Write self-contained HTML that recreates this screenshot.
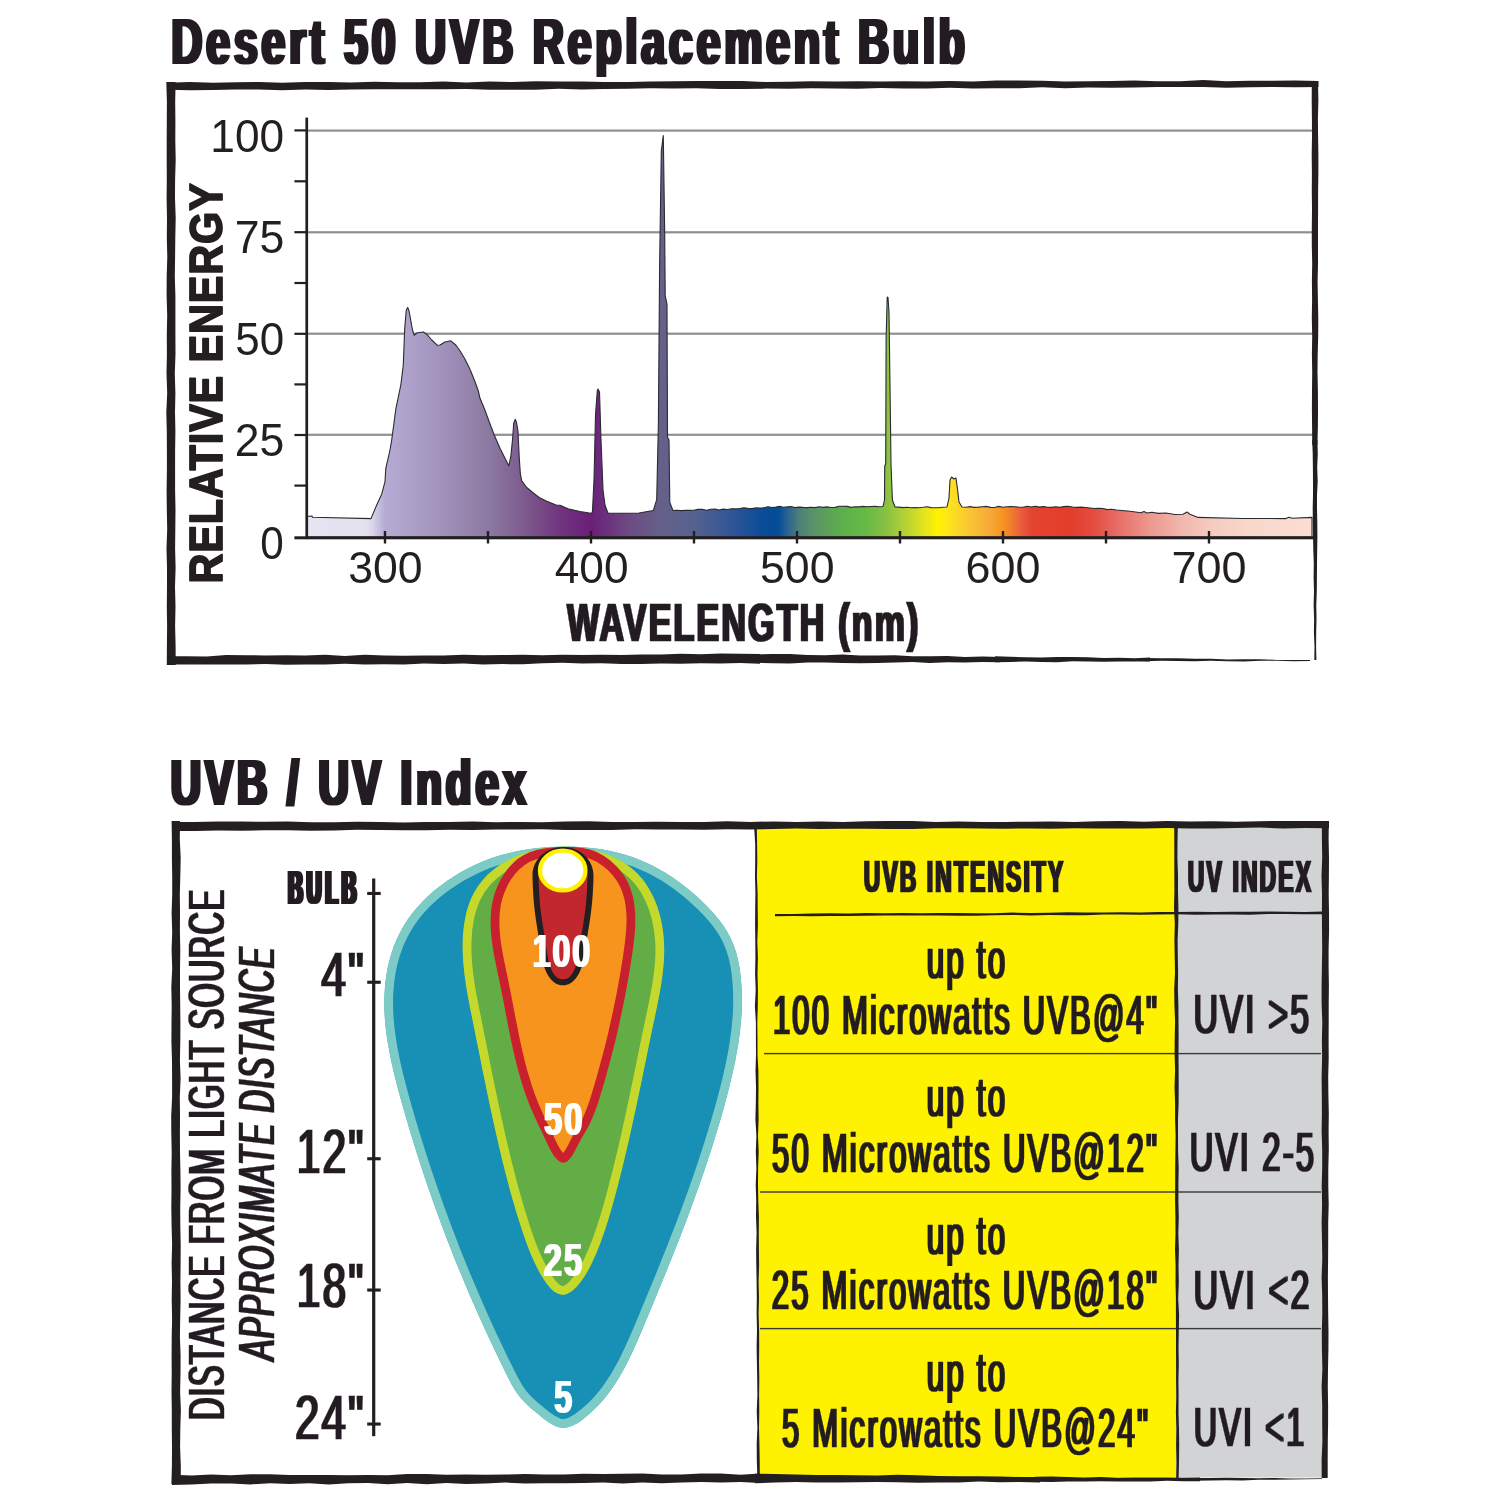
<!DOCTYPE html>
<html lang="en"><head><meta charset="utf-8"><title>Desert 50 UVB Replacement Bulb</title>
<style>html,body{margin:0;padding:0;background:#fff}svg{display:block}text{white-space:pre}</style></head>
<body>
<svg width="1500" height="1500" viewBox="0 0 1500 1500" font-family="'Liberation Sans', sans-serif">
<rect width="1500" height="1500" fill="#fff"/>
<defs><filter id="fx1" x="-5%" y="-5%" width="110%" height="110%"><feMorphology operator="dilate" radius="1 0"/></filter><filter id="fx2" x="-5%" y="-5%" width="110%" height="110%"><feMorphology operator="dilate" radius="2 0"/></filter><filter id="fy1" x="-5%" y="-5%" width="110%" height="110%"><feMorphology operator="dilate" radius="0 1"/></filter><filter id="fy2" x="-5%" y="-5%" width="110%" height="110%"><feMorphology operator="dilate" radius="0 2"/></filter></defs>
<defs><linearGradient id="sp" gradientUnits="userSpaceOnUse" x1="307" y1="0" x2="1312" y2="0">
<stop offset="0.0000" stop-color="#e7e4f2"/>
<stop offset="0.0587" stop-color="#e5e2f0"/>
<stop offset="0.0647" stop-color="#d9d5ea"/>
<stop offset="0.0776" stop-color="#b5abd3"/>
<stop offset="0.1303" stop-color="#a394bd"/>
<stop offset="0.1791" stop-color="#8d7aa3"/>
<stop offset="0.2169" stop-color="#7d5a8d"/>
<stop offset="0.2517" stop-color="#71357f"/>
<stop offset="0.2826" stop-color="#6a1f78"/>
<stop offset="0.3204" stop-color="#6e4a83"/>
<stop offset="0.3512" stop-color="#66608a"/>
<stop offset="0.3861" stop-color="#55618f"/>
<stop offset="0.4239" stop-color="#2f5597"/>
<stop offset="0.4517" stop-color="#0c4c98"/>
<stop offset="0.4687" stop-color="#034c98"/>
<stop offset="0.4796" stop-color="#2e6690"/>
<stop offset="0.4896" stop-color="#4d8078"/>
<stop offset="0.5065" stop-color="#5b9666"/>
<stop offset="0.5254" stop-color="#5ca850"/>
<stop offset="0.5403" stop-color="#5eb548"/>
<stop offset="0.5552" stop-color="#66b945"/>
<stop offset="0.5751" stop-color="#86c043"/>
<stop offset="0.5950" stop-color="#b5d136"/>
<stop offset="0.6149" stop-color="#e6e41c"/>
<stop offset="0.6279" stop-color="#fff200"/>
<stop offset="0.6398" stop-color="#fde21f"/>
<stop offset="0.6597" stop-color="#f9c433"/>
<stop offset="0.6796" stop-color="#f6a93a"/>
<stop offset="0.6925" stop-color="#f7941d"/>
<stop offset="0.7015" stop-color="#f07a30"/>
<stop offset="0.7114" stop-color="#e85a3c"/>
<stop offset="0.7214" stop-color="#e4442f"/>
<stop offset="0.7592" stop-color="#e23d2b"/>
<stop offset="0.7841" stop-color="#e44e40"/>
<stop offset="0.8090" stop-color="#e7706a"/>
<stop offset="0.8388" stop-color="#ec988f"/>
<stop offset="0.8687" stop-color="#f1b5ab"/>
<stop offset="0.8985" stop-color="#f5cabf"/>
<stop offset="0.9383" stop-color="#f9d8cc"/>
<stop offset="1.0000" stop-color="#fbddd1"/>
</linearGradient></defs>
<rect x="307" y="129.5" width="1006" height="2.2" fill="#8f8f8f"/>
<rect x="307" y="231.2" width="1006" height="2.2" fill="#8f8f8f"/>
<rect x="307" y="332.6" width="1006" height="2.2" fill="#8f8f8f"/>
<rect x="307" y="433.7" width="1006" height="2.2" fill="#8f8f8f"/>
<path d="M307.0 537.0 L307.0 516.5 L312.0 516.0 L312.5 517.2 L371.0 518.6 L376.7 505.0 L381.7 494.2 L385.0 481.7 L385.8 468.3 L390.0 450.0 L391.7 440.0 L395.8 409.2 L400.8 385.0 L403.3 365.0 L404.7 328.3 L406.3 310.0 L407.7 307.5 L409.0 310.8 L412.5 330.0 L414.2 335.3 L416.7 333.0 L423.3 332.0 L426.7 334.2 L431.7 340.0 L437.5 345.3 L440.0 345.0 L445.0 342.0 L450.8 340.8 L455.8 345.0 L460.0 350.8 L465.0 359.2 L470.0 369.2 L475.0 381.7 L478.3 390.8 L480.0 398.3 L484.2 408.3 L489.2 421.7 L494.2 435.0 L500.0 448.3 L505.0 458.3 L508.8 465.8 L510.8 456.7 L512.5 440.0 L513.7 423.3 L515.3 419.2 L516.7 423.3 L518.0 431.7 L519.2 456.7 L520.3 473.3 L521.7 480.8 L526.7 487.5 L533.3 493.0 L539.2 497.5 L546.7 501.3 L556.7 505.3 L560.0 505.2 L568.0 508.8 L580.0 511.5 L591.0 513.3 L592.4 512.5 L594.0 480.0 L595.5 415.0 L597.3 390.5 L598.0 389.0 L599.5 392.0 L601.0 440.0 L603.0 490.0 L605.0 505.0 L608.0 513.3 L625.0 513.2 L639.0 513.0 L653.3 510.5 L656.7 499.7 L658.4 423.0 L659.6 267.0 L661.3 151.0 L663.3 135.6 L664.7 233.0 L665.2 295.7 L667.0 304.0 L667.5 437.0 L669.0 440.0 L669.8 502.5 L673.0 510.5 L677.2 510.3 L681.4 510.6 L685.6 510.2 L689.8 510.4 L693.9 510.3 L698.1 509.4 L702.3 509.2 L706.5 510.2 L710.7 509.2 L714.9 509.1 L719.1 510.0 L723.2 509.1 L727.4 509.5 L731.6 508.8 L735.8 508.9 L740.0 508.6 L744.0 507.9 L748.0 508.4 L752.0 508.6 L756.0 507.9 L760.0 508.0 L764.0 507.8 L768.0 506.7 L772.0 507.5 L776.0 507.1 L780.0 506.2 L783.0 507.2 L787.0 506.9 L791.0 506.5 L795.0 507.6 L799.0 507.1 L803.0 507.4 L807.0 507.6 L811.0 507.3 L815.0 507.6 L819.0 506.8 L823.0 507.4 L827.0 506.9 L831.0 507.5 L835.0 507.4 L839.0 506.3 L843.0 506.3 L847.0 506.4 L851.0 507.4 L855.0 506.7 L859.0 506.9 L863.0 506.4 L867.0 506.7 L871.0 506.5 L875.0 506.4 L879.0 506.7 L883.0 506.5 L884.5 500.0 L884.7 466.0 L885.7 464.0 L886.1 340.0 L887.2 297.0 L888.0 297.5 L889.0 312.0 L890.0 386.0 L891.0 464.0 L892.4 500.0 L895.0 507.0 L899.0 507.1 L903.0 507.6 L907.0 507.3 L911.0 507.7 L915.0 507.6 L919.0 507.8 L923.0 507.3 L927.0 506.7 L931.0 507.6 L935.0 507.8 L939.0 507.7 L943.0 507.3 L947.0 507.0 L949.0 498.0 L950.0 480.0 L951.6 477.0 L954.0 479.0 L956.0 478.0 L957.6 490.0 L959.0 502.0 L962.0 507.0 L966.1 507.2 L970.1 506.6 L974.2 507.4 L978.3 507.1 L982.4 506.7 L986.4 506.4 L990.5 507.4 L994.6 507.5 L998.7 506.4 L1002.7 507.3 L1006.8 506.8 L1010.9 506.5 L1015.0 506.7 L1019.0 507.2 L1023.1 507.3 L1027.2 506.3 L1031.3 507.0 L1035.3 506.3 L1039.4 507.1 L1043.5 506.6 L1047.6 507.3 L1051.6 507.4 L1055.7 506.8 L1059.8 507.4 L1063.9 506.6 L1067.9 506.3 L1072.6 507.0 L1076.9 507.4 L1081.3 507.1 L1085.6 507.5 L1090.0 508.0 L1094.3 508.5 L1098.6 508.3 L1103.0 508.5 L1107.3 509.6 L1111.7 509.3 L1116.6 510.0 L1130.0 511.2 L1141.0 512.8 L1144.0 511.6 L1147.0 513.0 L1152.0 512.2 L1158.0 513.4 L1166.0 513.0 L1175.0 514.5 L1183.0 514.2 L1187.0 512.0 L1190.0 514.2 L1198.0 517.4 L1242.0 518.5 L1286.0 518.6 L1289.0 517.2 L1292.0 518.3 L1312.0 517.4 L1312.0 537.0Z" fill="url(#sp)" stroke="#2a2a32" stroke-width="1.1" stroke-linejoin="round"/>
<rect x="305.4" y="117.6" width="2.7" height="421.5" fill="#231f20"/>
<rect x="294.4" y="536.3" width="1019" height="3" fill="#231f20"/>
<rect x="294.4" y="129.3" width="12" height="2.2" fill="#231f20"/>
<rect x="294.4" y="180.2" width="12" height="2.2" fill="#231f20"/>
<rect x="294.4" y="231.1" width="12" height="2.2" fill="#231f20"/>
<rect x="294.4" y="281.9" width="12" height="2.2" fill="#231f20"/>
<rect x="294.4" y="332.7" width="12" height="2.2" fill="#231f20"/>
<rect x="294.4" y="383.3" width="12" height="2.2" fill="#231f20"/>
<rect x="294.4" y="433.9" width="12" height="2.2" fill="#231f20"/>
<rect x="294.4" y="484.5" width="12" height="2.2" fill="#231f20"/>
<rect x="383.8" y="531" width="2.4" height="12.5" fill="#231f20"/>
<rect x="486.8" y="531" width="2.4" height="12.5" fill="#231f20"/>
<rect x="589.8" y="531" width="2.4" height="12.5" fill="#231f20"/>
<rect x="692.8" y="531" width="2.4" height="12.5" fill="#231f20"/>
<rect x="795.8" y="531" width="2.4" height="12.5" fill="#231f20"/>
<rect x="898.8" y="531" width="2.4" height="12.5" fill="#231f20"/>
<rect x="1001.8" y="531" width="2.4" height="12.5" fill="#231f20"/>
<rect x="1104.8" y="531" width="2.4" height="12.5" fill="#231f20"/>
<rect x="1207.8" y="531" width="2.4" height="12.5" fill="#231f20"/>
<path d="M166.3 82.0 L166.9 101.4 L166.8 120.9 L166.7 140.3 L166.7 159.7 L166.8 179.2 L166.6 198.6 L167.0 218.0 L166.8 237.5 L167.3 256.9 L166.7 276.3 L166.6 295.8 L167.2 315.2 L166.8 334.6 L166.9 354.1 L166.5 373.5 L167.2 392.9 L166.3 412.4 L166.8 431.8 L166.9 451.2 L166.9 470.7 L166.6 490.1 L166.8 509.5 L167.2 529.0 L166.5 548.4 L167.0 567.8 L167.0 587.3 L166.8 606.7 L167.1 626.1 L166.9 645.6 L166.8 665.0 L175.7 665.0 L175.6 645.6 L175.1 626.1 L175.5 606.7 L175.0 587.3 L175.6 567.8 L175.1 548.4 L175.3 529.0 L175.5 509.5 L175.1 490.1 L175.1 470.7 L175.1 451.2 L175.4 431.8 L175.0 412.4 L175.4 392.9 L174.8 373.5 L175.5 354.1 L175.4 334.6 L175.4 315.2 L175.4 295.8 L174.8 276.3 L175.1 256.9 L175.3 237.5 L175.7 218.0 L175.0 198.6 L175.1 179.2 L175.7 159.7 L175.3 140.3 L175.4 120.9 L175.2 101.4 L175.6 82.0Z" fill="#231f20"/>
<path d="M167.0 89.7 L190.0 90.2 L213.1 89.9 L236.1 89.5 L259.1 89.5 L282.2 90.2 L305.2 89.5 L328.2 89.9 L351.2 89.4 L374.3 89.3 L397.3 89.2 L420.3 89.3 L443.4 89.3 L466.4 88.9 L489.4 89.8 L512.5 89.8 L535.5 89.7 L558.5 88.7 L581.5 89.4 L604.6 89.0 L627.6 88.7 L650.6 88.3 L673.7 88.5 L696.7 88.2 L719.7 88.9 L742.8 89.1 L765.8 88.6 L788.8 88.8 L811.8 88.2 L834.9 88.4 L857.9 88.8 L880.9 88.0 L904.0 88.6 L927.0 88.5 L950.0 87.7 L973.1 88.4 L996.1 88.3 L1019.1 88.2 L1042.1 87.2 L1065.2 88.2 L1088.2 87.4 L1111.2 87.7 L1134.3 87.5 L1157.3 86.9 L1180.3 87.0 L1203.4 86.9 L1226.4 87.8 L1249.4 87.3 L1272.4 87.0 L1295.5 87.3 L1318.5 86.9 L1318.5 80.9 L1295.5 80.4 L1272.4 80.8 L1249.4 80.8 L1226.4 81.2 L1203.3 80.1 L1180.3 81.2 L1157.3 81.3 L1134.3 80.5 L1111.2 81.0 L1088.2 81.2 L1065.2 81.5 L1042.1 80.8 L1019.1 80.6 L996.1 80.6 L973.0 81.5 L950.0 81.1 L927.0 81.4 L904.0 81.2 L880.9 81.6 L857.9 81.2 L834.9 81.4 L811.8 81.2 L788.8 81.8 L765.8 82.0 L742.7 81.0 L719.7 81.0 L696.7 81.1 L673.7 81.2 L650.6 81.6 L627.6 82.0 L604.6 82.0 L581.5 81.6 L558.5 81.5 L535.5 81.3 L512.4 82.0 L489.4 81.5 L466.4 82.6 L443.4 81.5 L420.3 82.2 L397.3 82.3 L374.3 81.8 L351.2 82.6 L328.2 81.9 L305.2 81.9 L282.1 82.7 L259.1 82.0 L236.1 82.3 L213.1 82.7 L190.0 82.0 L167.0 82.7Z" fill="#231f20"/>
<path d="M1311.8 82.0 L1311.7 100.2 L1311.9 118.3 L1312.0 136.4 L1311.7 154.6 L1311.9 172.8 L1311.8 190.9 L1312.0 209.1 L1311.8 227.2 L1311.8 245.3 L1312.2 263.5 L1311.9 281.6 L1312.1 299.8 L1311.8 318.0 L1312.2 336.1 L1311.9 354.2 L1312.2 372.4 L1312.0 390.6 L1311.9 408.7 L1312.1 426.8 L1312.2 445.0 L1317.4 445.0 L1317.9 426.8 L1318.0 408.7 L1317.9 390.6 L1317.5 372.4 L1317.7 354.2 L1318.2 336.1 L1318.3 318.0 L1317.9 299.8 L1317.6 281.6 L1318.0 263.5 L1318.0 245.3 L1318.0 227.2 L1318.1 209.1 L1318.1 190.9 L1318.4 172.8 L1318.4 154.6 L1318.1 136.4 L1317.9 118.3 L1318.4 100.2 L1318.0 82.0Z" fill="#231f20"/>
<path d="M1312.2 440.0 L1312.7 453.8 L1312.9 467.5 L1313.0 481.3 L1313.0 495.0 L1312.7 508.8 L1312.8 522.5 L1313.0 536.3 L1313.3 550.0 L1313.8 563.8 L1313.6 577.5 L1314.0 591.3 L1313.6 605.0 L1314.1 618.8 L1313.9 632.5 L1314.5 646.3 L1314.3 660.0 L1316.4 660.0 L1316.1 646.2 L1316.2 632.5 L1316.5 618.7 L1316.3 605.0 L1316.8 591.2 L1316.9 577.5 L1317.0 563.7 L1317.2 550.0 L1317.4 536.2 L1317.3 522.5 L1317.0 508.7 L1317.0 495.0 L1317.7 481.2 L1317.2 467.5 L1317.8 453.7 L1317.4 440.0Z" fill="#231f20"/>
<path d="M167.0 664.6 L186.8 664.6 L206.5 664.5 L226.3 664.6 L246.1 664.4 L265.8 664.0 L285.6 664.8 L305.4 664.4 L325.1 664.5 L344.9 663.7 L364.7 664.6 L384.4 664.2 L404.2 664.4 L424.0 663.6 L443.7 664.1 L463.5 663.5 L483.3 664.6 L503.0 664.1 L522.8 664.3 L542.6 663.3 L562.3 662.8 L582.1 663.4 L601.9 663.3 L621.6 663.9 L641.4 664.1 L661.2 663.5 L680.9 663.8 L700.7 663.3 L720.5 663.5 L740.2 662.9 L760.0 663.7 L760.0 654.1 L740.2 653.7 L720.5 653.6 L700.7 654.2 L680.9 653.8 L661.2 654.4 L641.4 654.4 L621.6 655.0 L601.9 654.8 L582.1 655.1 L562.3 654.7 L542.6 655.2 L522.8 654.7 L503.0 655.0 L483.3 655.3 L463.5 654.7 L443.7 655.4 L424.0 655.6 L404.2 655.7 L384.4 655.4 L364.7 654.7 L344.9 656.0 L325.1 654.8 L305.4 655.6 L285.6 655.3 L265.8 655.4 L246.1 655.3 L226.3 655.0 L206.5 656.5 L186.8 656.2 L167.0 656.2Z" fill="#231f20"/>
<path d="M755.0 662.7 L772.5 663.2 L790.0 663.4 L807.5 662.5 L825.0 662.5 L842.5 663.0 L860.0 663.2 L877.5 663.1 L895.0 662.5 L912.5 662.0 L930.0 662.9 L947.5 662.2 L965.0 662.6 L982.5 662.1 L1000.0 662.2 L1000.0 657.1 L982.5 656.6 L965.0 656.9 L947.5 656.1 L930.0 656.2 L912.5 656.3 L895.0 655.3 L877.5 655.6 L860.0 655.5 L842.5 654.6 L825.0 655.2 L807.5 655.0 L790.0 654.0 L772.5 654.0 L755.0 654.3Z" fill="#231f20"/>
<path d="M995.0 662.3 L1010.5 662.0 L1026.0 661.6 L1041.5 662.1 L1057.0 662.2 L1072.5 661.3 L1088.0 661.4 L1103.5 661.7 L1119.0 661.5 L1134.5 661.5 L1150.0 661.4 L1150.0 657.6 L1134.5 658.2 L1119.0 657.7 L1103.5 657.9 L1088.0 657.3 L1072.5 657.0 L1057.0 656.9 L1041.5 657.5 L1026.0 657.2 L1010.5 656.8 L995.0 656.3Z" fill="#231f20"/>
<path d="M1145.0 661.2 L1161.5 660.8 L1178.0 661.0 L1194.5 661.2 L1211.0 660.8 L1227.5 661.2 L1244.0 661.4 L1260.5 660.7 L1277.0 660.7 L1293.5 661.2 L1310.0 661.0 L1310.0 660.1 L1293.5 659.9 L1277.0 659.9 L1260.5 659.2 L1244.0 659.2 L1227.5 659.4 L1211.0 658.8 L1194.5 658.7 L1178.0 658.3 L1161.5 658.3 L1145.0 658.1Z" fill="#231f20"/>
<path d="M756.2 826 L1177 826 L1178 1477.5 L758.6 1477.5Z" fill="#fff200"/>
<rect x="1176" y="826" width="148" height="651.5" fill="#d1d3d4"/>
<path d="M775.0 916.3 L793.3 916.0 L811.5 916.3 L829.8 916.1 L848.1 915.9 L866.3 915.8 L884.6 915.5 L902.9 915.6 L921.1 915.6 L939.4 915.5 L957.7 915.8 L975.9 915.7 L994.2 915.2 L1012.5 915.0 L1030.7 915.4 L1049.0 914.9 L1067.3 915.3 L1085.5 915.2 L1103.8 914.6 L1122.1 914.6 L1140.3 914.8 L1158.6 914.5 L1176.9 914.2 L1195.1 914.8 L1213.4 914.4 L1231.7 914.4 L1249.9 914.7 L1268.2 914.1 L1286.5 914.1 L1304.7 914.3 L1323.0 914.2 L1323.0 911.5 L1304.7 912.1 L1286.5 911.7 L1268.2 911.5 L1249.9 911.7 L1231.7 911.8 L1213.4 912.0 L1195.1 911.7 L1176.9 911.9 L1158.6 912.0 L1140.3 912.5 L1122.1 912.3 L1103.8 912.5 L1085.5 912.4 L1067.3 912.3 L1049.0 912.7 L1030.7 913.0 L1012.5 912.6 L994.2 913.2 L975.9 913.2 L957.7 913.1 L939.4 913.0 L921.1 913.3 L902.9 913.0 L884.6 913.3 L866.3 913.1 L848.1 913.6 L829.8 913.3 L811.5 913.4 L793.3 914.0 L775.0 913.9Z" fill="#231f20"/>
<rect x="764" y="1052.9" width="557" height="1.4" fill="#3a3a3a"/>
<rect x="760" y="1191.3" width="561" height="1.4" fill="#3a3a3a"/>
<rect x="760" y="1327.9" width="561" height="1.4" fill="#3a3a3a"/>
<path d="M1174.2 826.0 L1174.3 842.3 L1174.3 858.6 L1174.3 874.9 L1174.4 891.2 L1174.0 907.5 L1174.8 923.8 L1174.4 940.1 L1174.7 956.4 L1175.0 972.7 L1174.2 989.0 L1174.4 1005.3 L1175.1 1021.6 L1174.7 1037.9 L1174.6 1054.2 L1175.1 1070.5 L1174.5 1086.8 L1175.1 1103.1 L1175.1 1119.4 L1175.6 1135.7 L1175.4 1152.0 L1175.2 1168.3 L1175.2 1184.6 L1175.1 1200.9 L1175.4 1217.2 L1175.5 1233.5 L1175.0 1249.8 L1175.6 1266.1 L1175.5 1282.4 L1175.9 1298.7 L1175.9 1315.0 L1176.0 1331.3 L1176.0 1347.6 L1176.1 1363.9 L1176.1 1380.2 L1176.3 1396.5 L1175.9 1412.8 L1176.4 1429.1 L1176.1 1445.4 L1176.5 1461.7 L1176.2 1478.0 L1178.6 1478.0 L1179.0 1461.7 L1179.2 1445.4 L1179.0 1429.1 L1178.5 1412.8 L1178.6 1396.5 L1178.4 1380.2 L1178.8 1363.9 L1178.5 1347.6 L1178.8 1331.3 L1179.1 1315.0 L1178.2 1298.7 L1178.8 1282.4 L1178.5 1266.1 L1178.9 1249.8 L1178.3 1233.5 L1178.8 1217.2 L1178.4 1200.9 L1178.4 1184.6 L1178.7 1168.3 L1178.1 1152.0 L1178.0 1135.7 L1178.0 1119.4 L1178.6 1103.1 L1178.7 1086.8 L1178.6 1070.5 L1178.5 1054.2 L1178.6 1037.9 L1178.5 1021.6 L1178.4 1005.3 L1177.9 989.0 L1178.1 972.7 L1177.8 956.4 L1177.6 940.1 L1178.3 923.8 L1178.4 907.5 L1178.0 891.2 L1178.0 874.9 L1177.4 858.6 L1177.5 842.3 L1177.8 826.0Z" fill="#231f20"/>
<path d="M754.2 828.0 L755.2 844.2 L755.2 860.4 L755.0 876.6 L755.4 892.8 L755.2 909.0 L755.1 925.2 L755.3 941.4 L755.4 957.6 L755.1 973.8 L755.7 990.0 L754.9 1006.2 L755.9 1022.4 L755.9 1038.6 L756.0 1054.8 L755.5 1071.0 L756.0 1087.2 L755.8 1103.4 L755.4 1119.6 L756.4 1135.8 L755.8 1152.0 L756.4 1168.2 L755.7 1184.4 L756.2 1200.6 L756.0 1216.8 L756.6 1233.0 L756.1 1249.2 L756.3 1265.4 L756.6 1281.6 L756.8 1297.8 L756.6 1314.0 L757.0 1330.2 L756.6 1346.4 L756.9 1362.6 L757.2 1378.8 L757.4 1395.0 L756.7 1411.2 L757.4 1427.4 L756.7 1443.6 L756.8 1459.8 L757.3 1476.0 L759.8 1476.0 L759.7 1459.8 L759.4 1443.6 L759.0 1427.4 L759.3 1411.2 L759.1 1395.0 L759.3 1378.8 L759.0 1362.6 L759.2 1346.4 L759.1 1330.2 L758.6 1314.0 L759.0 1297.8 L758.6 1281.6 L759.1 1265.4 L758.9 1249.2 L758.8 1233.0 L758.9 1216.8 L758.3 1200.6 L758.0 1184.4 L758.1 1168.2 L758.7 1152.0 L758.0 1135.8 L758.6 1119.6 L758.4 1103.4 L758.5 1087.2 L758.4 1071.0 L757.5 1054.8 L757.5 1038.6 L757.3 1022.4 L757.8 1006.2 L757.9 990.0 L757.5 973.8 L757.9 957.6 L757.3 941.4 L757.9 925.2 L757.7 909.0 L757.6 892.8 L756.9 876.6 L757.3 860.4 L757.1 844.2 L756.8 828.0Z" fill="#231f20"/>
<defs>
<path id="pteal" d="M563.2 846.5C552.9 846.5 542.7 847.2 532.6 848.5C522.5 849.8 512.6 851.8 502.7 854.6C492.9 857.4 483.1 861.1 473.6 865.5C464.2 870.0 455.0 875.3 446.4 881.3C437.8 887.3 429.7 894.0 422.5 901.5C415.3 908.9 408.9 917.0 403.7 925.7C398.4 934.4 394.3 943.7 391.3 953.5C388.2 963.2 386.3 973.3 385.2 983.5C384.1 993.8 384.0 1004.1 384.5 1014.3C385.0 1024.5 386.3 1034.7 388.0 1044.8C389.7 1055.0 391.9 1065.0 394.3 1075.1C396.8 1085.1 399.5 1095.1 402.3 1105.1C405.1 1115.0 408.0 1124.9 411.0 1134.8C414.0 1144.6 417.1 1154.5 420.3 1164.2C423.5 1174.0 426.8 1183.8 430.2 1193.5C433.5 1203.1 437.0 1212.8 440.6 1222.4C444.2 1232.0 447.8 1241.6 451.6 1251.2C455.3 1260.7 459.2 1270.2 463.2 1279.7C467.1 1289.2 471.2 1298.6 475.3 1308.0C479.4 1317.4 483.7 1326.8 488.0 1336.1C492.3 1345.4 496.8 1354.7 501.3 1364.0C505.8 1373.3 510.2 1382.8 515.6 1391.2C521.1 1399.7 528.2 1406.2 536.4 1412.8C544.6 1419.5 553.6 1427.9 563.3 1427.9C573.0 1427.9 582.5 1420.0 590.2 1413.2C598.0 1406.5 604.6 1398.9 610.5 1390.7C616.4 1382.5 621.6 1373.8 626.3 1364.7C631.0 1355.7 635.2 1346.3 639.3 1336.8C643.4 1327.3 647.3 1317.7 651.3 1308.2C655.2 1298.7 659.2 1289.1 663.1 1279.6C667.0 1270.1 670.8 1260.5 674.6 1250.9C678.4 1241.4 682.1 1231.8 685.8 1222.2C689.4 1212.6 693.0 1203.0 696.4 1193.3C699.9 1183.7 703.3 1174.0 706.5 1164.2C709.8 1154.5 712.9 1144.7 715.9 1134.9C719.0 1125.1 721.8 1115.2 724.6 1105.2C727.3 1095.3 729.9 1085.3 732.2 1075.2C734.5 1065.2 736.6 1055.1 738.2 1044.9C739.8 1034.8 741.0 1024.6 741.6 1014.3C742.2 1004.1 742.2 993.8 741.4 983.5C740.7 973.2 739.2 962.9 736.4 953.1C733.5 943.2 729.3 933.9 723.3 925.5C717.4 917.0 710.3 909.2 702.8 902.0C695.4 894.7 687.5 887.9 679.1 881.9C670.8 875.8 662.1 870.4 652.9 865.7C643.8 861.1 634.3 857.3 624.5 854.4C614.6 851.5 604.5 849.5 594.2 848.2C583.9 847.0 573.5 846.4 563.2 846.5Z"/><clipPath id="cteal"><use href="#pteal"/></clipPath>
<path id="plime" d="M563.2 846.8C555.7 846.8 548.4 847.5 541.2 848.7C534.0 850.0 526.9 851.9 520.1 854.5C513.3 857.2 506.7 860.5 500.5 864.6C494.3 868.7 488.5 873.5 483.7 878.9C478.8 884.4 474.8 890.5 471.8 897.1C468.8 903.7 466.6 910.8 465.2 918.1C463.7 925.4 463.0 933.0 462.7 940.5C462.5 948.1 462.7 955.7 463.3 963.1C463.9 970.5 464.8 977.8 465.9 985.0C467.0 992.1 468.4 999.3 469.8 1006.4C471.2 1013.5 472.6 1020.6 474.1 1027.7C475.5 1034.9 476.9 1042.1 478.4 1049.3C479.8 1056.5 481.3 1063.7 482.7 1071.0C484.2 1078.2 485.7 1085.5 487.2 1092.8C488.7 1100.0 490.2 1107.3 491.8 1114.6C493.4 1121.8 495.0 1129.1 496.6 1136.3C498.3 1143.5 500.0 1150.7 501.7 1157.9C503.5 1165.1 505.3 1172.2 507.1 1179.3C509.0 1186.4 510.9 1193.5 512.9 1200.5C514.9 1207.5 517.0 1214.4 519.2 1221.3C521.3 1228.2 523.5 1235.0 526.0 1241.8C528.4 1248.5 531.1 1255.3 534.4 1262.3C537.7 1269.2 541.6 1276.8 546.4 1283.2C551.1 1289.7 557.1 1295.0 563.3 1294.7C569.5 1294.5 575.6 1288.3 580.4 1282.2C585.1 1276.2 588.8 1269.5 592.0 1262.8C595.2 1256.0 598.1 1249.2 600.7 1242.2C603.3 1235.3 605.6 1228.4 607.8 1221.3C610.0 1214.3 612.0 1207.3 613.9 1200.2C615.9 1193.1 617.7 1186.0 619.5 1178.9C621.4 1171.8 623.1 1164.7 624.8 1157.5C626.5 1150.4 628.2 1143.2 629.8 1136.1C631.4 1128.9 633.0 1121.7 634.5 1114.6C636.1 1107.4 637.6 1100.2 639.1 1093.0C640.6 1085.8 642.1 1078.6 643.6 1071.3C645.1 1064.1 646.6 1056.9 648.0 1049.7C649.5 1042.4 651.0 1035.2 652.5 1028.0C654.1 1020.7 655.6 1013.5 657.1 1006.2C658.6 999.0 660.0 991.7 661.2 984.5C662.3 977.2 663.2 969.9 663.8 962.6C664.3 955.3 664.4 948.0 663.9 940.7C663.5 933.3 662.4 925.9 660.7 918.6C659.0 911.4 656.7 904.3 653.6 897.6C650.6 890.9 646.8 884.6 642.3 879.0C637.8 873.4 632.6 868.5 626.7 864.4C620.8 860.3 614.2 857.0 607.3 854.4C600.4 851.8 593.1 849.9 585.7 848.7C578.2 847.4 570.7 846.8 563.2 846.8Z"/><clipPath id="clime"><use href="#plime"/></clipPath>
<path id="pred" d="M563.3 847.0C558.1 847.1 552.9 847.3 547.8 848.0C542.6 848.6 537.5 849.6 532.7 851.2C527.8 852.8 523.2 855.0 519.0 858.1C514.8 861.2 510.9 865.0 507.5 869.3C504.1 873.6 501.2 878.3 498.9 883.1C496.6 887.8 494.8 892.7 493.5 897.6C492.2 902.4 491.4 907.4 491.0 912.4C490.6 917.4 490.5 922.5 490.7 927.6C490.9 932.7 491.4 937.8 492.1 942.9C492.8 948.1 493.7 953.3 494.7 958.5C495.7 963.7 496.8 968.9 497.9 974.1C499.0 979.3 500.1 984.5 501.1 989.6C502.2 994.8 503.2 1000.0 504.2 1005.2C505.1 1010.3 506.1 1015.5 507.1 1020.6C508.1 1025.7 509.1 1030.9 510.1 1035.9C511.2 1041.0 512.3 1046.1 513.4 1051.1C514.5 1056.1 515.7 1061.1 517.0 1066.1C518.3 1071.1 519.7 1076.0 521.2 1080.9C522.6 1085.8 524.2 1090.7 525.9 1095.5C527.7 1100.3 529.5 1105.1 531.5 1109.8C533.5 1114.5 535.7 1119.2 537.9 1124.0C540.2 1128.7 542.5 1133.5 544.9 1138.4C547.2 1143.3 549.4 1148.5 552.3 1153.2C555.2 1158.0 559.4 1162.5 563.3 1162.8C567.2 1163.0 570.5 1158.6 573.6 1153.3C576.6 1147.9 579.3 1142.1 582.0 1137.5C584.7 1132.9 587.2 1128.9 589.4 1124.5C591.6 1120.1 593.6 1115.4 595.4 1110.6C597.2 1105.8 598.8 1100.8 600.3 1095.7C601.9 1090.7 603.3 1085.6 604.8 1080.6C606.2 1075.6 607.6 1070.5 608.9 1065.5C610.3 1060.5 611.6 1055.5 612.9 1050.5C614.2 1045.5 615.4 1040.5 616.6 1035.5C617.8 1030.5 618.9 1025.4 620.0 1020.4C621.1 1015.4 622.2 1010.3 623.2 1005.2C624.3 1000.2 625.3 995.1 626.2 990.0C627.2 984.9 628.1 979.7 629.0 974.5C629.8 969.4 630.7 964.2 631.5 958.9C632.3 953.7 633.1 948.4 633.7 943.1C634.4 937.9 634.9 932.6 635.1 927.4C635.4 922.2 635.4 917.0 635.1 911.9C634.8 906.8 634.1 901.9 633.0 897.0C631.8 892.2 630.2 887.5 628.1 883.0C625.9 878.5 623.2 874.1 619.8 870.1C616.5 866.0 612.4 862.0 607.8 858.7C603.3 855.3 598.4 852.5 593.5 850.7C588.6 848.9 583.7 847.9 578.6 847.4C573.6 846.9 568.5 846.9 563.3 847.0Z"/><clipPath id="cred"><use href="#pred"/></clipPath>
</defs>
<use href="#pteal" fill="#188fb5" stroke="#7ccbc6" stroke-width="17.6" clip-path="url(#cteal)"/>
<use href="#plime" fill="#62ad45" stroke="#c5d92d" stroke-width="17.6" clip-path="url(#clime)"/>
<use href="#pred" fill="#f7941e" stroke="#c8202c" stroke-width="17.6" clip-path="url(#cred)"/>
<path d="M532.5 875.0 C532.5 859.5 546.2 846.9 563.0 846.9 C579.8 846.9 593.5 859.5 593.5 875.0 C592.9 915.0 587.5 929.0 584.5 957.0 C581.0 974.0 573.8 985.3 563.0 985.3 C552.2 985.3 545.0 974.0 541.5 957.0 C538.5 929.0 533.1 915.0 532.5 875.0Z" fill="#231f20"/>
<path d="M538.5 875.0 C538.5 862.6 549.5 852.6 563.0 852.6 C576.5 852.6 587.5 862.6 587.5 875.0 C586.9 915.0 581.7 927.0 578.7 955.0 C575.2 972.0 570.9 979.3 563.0 979.3 C555.1 979.3 550.8 972.0 547.3 955.0 C544.3 927.0 539.1 915.0 538.5 875.0Z" fill="#c1272d"/>
<ellipse cx="562.7" cy="870.5" rx="22.7" ry="19.9" fill="#fff" stroke="#fff200" stroke-width="4.3"/>
<rect x="372.1" y="878.5" width="3.2" height="557.7" fill="#231f20"/>
<rect x="367.2" y="891.9" width="13.5" height="3.1" fill="#231f20"/>
<rect x="367.2" y="980.7" width="13.5" height="3.1" fill="#231f20"/>
<rect x="367.2" y="1157.2" width="13.5" height="3.1" fill="#231f20"/>
<rect x="367.2" y="1288.5" width="13.5" height="3.1" fill="#231f20"/>
<rect x="367.2" y="1422.5" width="13.5" height="3.1" fill="#231f20"/>
<path d="M171.6 821.0 L171.9 839.4 L171.9 857.8 L172.2 876.2 L172.2 894.7 L171.6 913.1 L172.2 931.5 L171.6 949.9 L172.2 968.3 L171.3 986.8 L171.7 1005.2 L171.5 1023.6 L171.4 1042.0 L172.0 1060.4 L172.1 1078.8 L172.1 1097.2 L171.2 1115.7 L171.3 1134.1 L171.7 1152.5 L171.4 1170.9 L171.5 1189.3 L171.3 1207.8 L171.6 1226.2 L172.1 1244.6 L171.6 1263.0 L172.0 1281.4 L171.7 1299.8 L172.1 1318.2 L171.7 1336.7 L171.6 1355.1 L171.7 1373.5 L171.5 1391.9 L171.8 1410.3 L171.8 1428.8 L172.0 1447.2 L171.9 1465.6 L171.4 1484.0 L180.8 1484.0 L180.8 1465.6 L180.1 1447.2 L180.3 1428.8 L180.9 1410.3 L180.1 1391.9 L180.5 1373.5 L180.6 1355.1 L179.9 1336.7 L180.2 1318.2 L180.6 1299.8 L180.4 1281.4 L180.6 1263.0 L180.7 1244.6 L180.3 1226.2 L180.2 1207.8 L180.6 1189.3 L180.4 1170.9 L180.0 1152.5 L179.9 1134.1 L180.0 1115.7 L179.8 1097.2 L180.6 1078.8 L179.9 1060.4 L180.3 1042.0 L180.4 1023.6 L180.2 1005.2 L180.0 986.8 L180.0 968.3 L180.3 949.9 L179.9 931.5 L180.0 913.1 L179.8 894.7 L180.3 876.2 L180.7 857.8 L179.8 839.4 L180.0 821.0Z" fill="#231f20"/>
<path d="M172.0 831.0 L195.1 830.9 L218.3 830.4 L241.4 830.8 L264.6 830.3 L287.7 830.2 L310.8 830.7 L334.0 830.6 L357.1 829.7 L380.3 829.9 L403.4 830.2 L426.5 830.2 L449.7 829.8 L472.8 830.1 L496.0 829.6 L519.1 829.6 L542.2 829.3 L565.4 829.9 L588.5 830.1 L611.7 829.9 L634.8 829.2 L657.9 829.4 L681.1 829.4 L704.2 829.7 L727.4 829.2 L750.5 829.5 L773.6 828.9 L796.8 828.6 L819.9 829.1 L843.1 828.7 L866.2 828.7 L889.3 828.9 L912.5 829.1 L935.6 828.3 L958.8 828.3 L981.9 828.5 L1005.0 828.7 L1028.2 828.4 L1051.3 828.8 L1074.5 828.2 L1097.6 828.4 L1120.7 828.6 L1143.9 828.6 L1167.0 827.9 L1190.2 828.5 L1213.3 828.5 L1236.4 827.9 L1259.6 827.6 L1282.7 828.4 L1305.9 827.9 L1329.0 828.3 L1329.0 821.0 L1305.9 821.1 L1282.7 820.9 L1259.6 821.2 L1236.4 821.7 L1213.3 821.3 L1190.2 821.4 L1167.0 821.1 L1143.9 821.7 L1120.7 821.0 L1097.6 821.3 L1074.5 821.9 L1051.3 821.6 L1028.2 821.7 L1005.0 821.9 L981.9 822.0 L958.8 821.6 L935.6 821.9 L912.5 821.1 L889.3 821.1 L866.2 821.3 L843.1 822.1 L819.9 821.6 L796.8 822.0 L773.6 821.4 L750.5 821.9 L727.4 821.3 L704.2 821.9 L681.1 821.9 L657.9 821.7 L634.8 821.9 L611.7 821.9 L588.5 821.3 L565.4 821.6 L542.2 822.2 L519.1 821.9 L496.0 822.2 L472.8 821.6 L449.7 822.0 L426.5 822.1 L403.4 822.4 L380.3 821.9 L357.1 821.7 L334.0 822.3 L310.8 822.2 L287.7 821.5 L264.6 821.7 L241.4 821.6 L218.3 821.6 L195.1 822.0 L172.0 821.9Z" fill="#231f20"/>
<path d="M1321.8 821.0 L1321.9 839.2 L1322.2 857.5 L1321.5 875.7 L1322.0 894.0 L1321.9 912.2 L1322.0 930.5 L1322.2 948.7 L1321.9 967.0 L1321.6 985.2 L1321.6 1003.5 L1322.3 1021.7 L1321.9 1040.0 L1322.1 1058.2 L1321.6 1076.5 L1321.8 1094.7 L1321.9 1113.0 L1321.6 1131.2 L1322.2 1149.5 L1322.2 1167.7 L1321.7 1186.0 L1322.1 1204.2 L1321.6 1222.5 L1322.0 1240.7 L1322.3 1259.0 L1321.6 1277.2 L1322.2 1295.5 L1322.3 1313.7 L1321.8 1332.0 L1321.9 1350.2 L1322.4 1368.5 L1321.6 1386.7 L1322.2 1405.0 L1322.2 1423.2 L1322.4 1441.5 L1321.6 1459.7 L1321.7 1478.0 L1327.7 1478.0 L1327.7 1459.8 L1327.8 1441.5 L1328.1 1423.3 L1328.1 1405.0 L1327.8 1386.8 L1328.0 1368.5 L1328.4 1350.3 L1328.5 1332.0 L1328.2 1313.8 L1328.0 1295.5 L1327.9 1277.3 L1328.1 1259.0 L1328.2 1240.8 L1328.2 1222.5 L1328.7 1204.3 L1328.3 1186.0 L1328.3 1167.8 L1328.8 1149.5 L1328.6 1131.3 L1328.8 1113.0 L1328.4 1094.8 L1328.2 1076.5 L1328.7 1058.3 L1328.6 1040.0 L1328.7 1021.8 L1328.7 1003.5 L1328.9 985.3 L1328.6 967.0 L1328.6 948.8 L1329.1 930.5 L1329.0 912.3 L1328.7 894.0 L1328.9 875.8 L1329.0 857.5 L1328.6 839.3 L1328.8 821.0Z" fill="#231f20"/>
<path d="M172.0 1484.9 L191.6 1484.4 L211.2 1483.5 L230.8 1483.6 L250.4 1484.4 L270.0 1483.3 L289.6 1483.9 L309.2 1483.3 L328.8 1484.5 L348.4 1483.2 L368.0 1483.1 L387.6 1484.2 L407.2 1483.1 L426.8 1484.2 L446.4 1483.1 L466.0 1484.0 L485.6 1483.6 L505.2 1482.6 L524.8 1483.6 L544.4 1483.3 L564.0 1483.2 L583.6 1483.1 L603.2 1482.6 L622.8 1483.6 L642.4 1482.5 L662.0 1483.3 L681.6 1482.5 L701.2 1482.1 L720.8 1482.6 L740.4 1482.1 L760.0 1483.1 L760.0 1473.6 L740.4 1474.7 L720.8 1473.5 L701.2 1473.4 L681.6 1474.6 L662.0 1474.6 L642.4 1473.6 L622.8 1473.7 L603.2 1474.1 L583.6 1473.8 L564.0 1474.4 L544.4 1474.4 L524.8 1474.0 L505.2 1474.6 L485.6 1474.7 L466.0 1474.5 L446.4 1474.7 L426.8 1473.9 L407.2 1474.0 L387.6 1475.2 L368.0 1474.9 L348.4 1475.2 L328.8 1475.0 L309.2 1474.9 L289.6 1475.0 L270.0 1474.2 L250.4 1474.3 L230.8 1475.3 L211.2 1474.6 L191.6 1475.5 L172.0 1474.8Z" fill="#231f20"/>
<path d="M755.0 1483.2 L775.3 1482.6 L795.7 1482.0 L816.1 1482.4 L836.4 1482.5 L856.8 1482.3 L877.1 1482.0 L897.5 1482.3 L917.8 1482.7 L938.2 1482.5 L958.6 1482.6 L978.9 1481.5 L999.3 1482.2 L1019.6 1482.0 L1040.0 1482.4 L1040.0 1476.9 L1019.7 1476.9 L999.3 1476.6 L978.9 1476.2 L958.6 1476.3 L938.2 1476.1 L917.9 1475.2 L897.5 1474.8 L877.2 1475.4 L856.8 1475.2 L836.4 1475.0 L816.1 1475.0 L795.7 1474.4 L775.4 1473.9 L755.0 1473.8Z" fill="#231f20"/>
<path d="M1035.0 1481.8 L1051.5 1482.1 L1068.0 1481.6 L1084.5 1481.6 L1101.0 1481.3 L1117.5 1481.6 L1134.0 1481.6 L1150.5 1481.6 L1167.0 1480.7 L1183.5 1481.3 L1200.0 1481.2 L1200.0 1477.6 L1183.5 1477.8 L1167.0 1477.6 L1150.5 1477.6 L1134.0 1477.5 L1117.5 1477.7 L1101.0 1476.9 L1084.5 1477.5 L1068.0 1477.1 L1051.5 1476.4 L1035.0 1476.8Z" fill="#231f20"/>
<path d="M1195.0 1480.7 L1210.9 1480.6 L1226.8 1480.3 L1242.6 1480.5 L1258.5 1479.8 L1274.4 1479.8 L1290.3 1479.4 L1306.1 1479.3 L1322.0 1478.9 L1322.0 1478.3 L1306.1 1478.4 L1290.2 1478.5 L1274.4 1478.0 L1258.5 1478.3 L1242.6 1477.9 L1226.7 1477.8 L1210.9 1477.9 L1195.0 1478.0Z" fill="#231f20"/>
<g opacity="0.999">
<g filter="url(#fx2)"><text transform="translate(171.42 64.30) scale(0.6584 1)" font-size="64.73" font-weight="bold" fill="#231f20" letter-spacing="6.08">Desert 50 UVB Replacement Bulb</text></g>
<text transform="translate(210.28 151.84) scale(0.9602 1)" font-size="46.08" fill="#231f20">100</text>
<text transform="translate(234.66 253.34) scale(0.9683 1)" font-size="46.08" fill="#231f20">75</text>
<text transform="translate(235.24 354.94) scale(0.9543 1)" font-size="46.08" fill="#231f20">50</text>
<text transform="translate(234.77 456.34) scale(0.9660 1)" font-size="46.08" fill="#231f20">25</text>
<text transform="translate(260.31 558.94) scale(0.9181 1)" font-size="46.08" fill="#231f20">0</text>
<text transform="translate(348.13 582.76) scale(1.0046 1)" font-size="44.38" fill="#231f20">300</text>
<text transform="translate(554.81 582.76) scale(0.9952 1)" font-size="44.38" fill="#231f20">400</text>
<text transform="translate(760.01 582.76) scale(1.0061 1)" font-size="44.38" fill="#231f20">500</text>
<text transform="translate(965.55 582.76) scale(1.0125 1)" font-size="44.38" fill="#231f20">600</text>
<text transform="translate(1171.44 582.76) scale(1.0141 1)" font-size="44.38" fill="#231f20">700</text>
<g filter="url(#fx1)"><text transform="translate(567.17 641.45) scale(0.6339 1)" font-size="53.53" font-weight="bold" fill="#231f20" stroke="#231f20" stroke-width="0.50" stroke-linejoin="round" letter-spacing="3.55">WAVELENGTH (nm)</text></g>
<text transform="translate(221.90 583.59) rotate(-90) scale(0.8918 1)" font-size="46.40" font-weight="bold" fill="#231f20" stroke="#231f20" stroke-width="1.80" stroke-linejoin="round" letter-spacing="1.01">RELATIVE ENERGY</text>
<g filter="url(#fx2)"><text transform="translate(170.68 804.80) scale(0.6480 1)" font-size="64.87" font-weight="bold" fill="#231f20" letter-spacing="6.17">UVB / UV Index</text></g>
<g filter="url(#fx1)"><text transform="translate(532.70 966.54) scale(0.7034 1)" font-size="45.51" font-weight="bold" fill="#fff" letter-spacing="2.84">100</text></g>
<g filter="url(#fx1)"><text transform="translate(544.02 1134.54) scale(0.7204 1)" font-size="45.51" font-weight="bold" fill="#fff" letter-spacing="2.78">50</text></g>
<g filter="url(#fx1)"><text transform="translate(543.86 1275.54) scale(0.7153 1)" font-size="45.51" font-weight="bold" fill="#fff" letter-spacing="2.80">25</text></g>
<g filter="url(#fx1)"><text transform="translate(554.24 1413.14) scale(0.7066 1)" font-size="45.51" font-weight="bold" fill="#fff" letter-spacing="2.83">5</text></g>
<g filter="url(#fx2)"><text transform="translate(288.13 903.50) scale(0.4286 1)" font-size="47.27" font-weight="bold" fill="#231f20" letter-spacing="9.33">BULB</text></g>
<g filter="url(#fx1)"><text transform="translate(321.15 996.23) scale(0.7129 1)" font-size="62.33" fill="#231f20" stroke="#231f20" stroke-width="0.30" stroke-linejoin="round" letter-spacing="3.02">4&quot;</text></g>
<g filter="url(#fx1)"><text transform="translate(296.66 1173.23) scale(0.6821 1)" font-size="62.33" fill="#231f20" stroke="#231f20" stroke-width="0.30" stroke-linejoin="round" letter-spacing="3.15">12&quot;</text></g>
<g filter="url(#fx1)"><text transform="translate(296.66 1306.53) scale(0.6821 1)" font-size="62.33" fill="#231f20" stroke="#231f20" stroke-width="0.30" stroke-linejoin="round" letter-spacing="3.15">18&quot;</text></g>
<g filter="url(#fx1)"><text transform="translate(294.95 1439.23) scale(0.7047 1)" font-size="62.33" fill="#231f20" stroke="#231f20" stroke-width="0.30" stroke-linejoin="round" letter-spacing="3.05">24&quot;</text></g>
<g filter="url(#fy1)"><text transform="translate(224.10 1420.06) rotate(-90) scale(0.6199 1)" font-size="50.04" fill="#231f20" stroke="#231f20" stroke-width="0.40" stroke-linejoin="round" letter-spacing="2.26">DISTANCE FROM LIGHT SOURCE</text></g>
<g filter="url(#fy1)"><text transform="translate(273.50 1360.32) rotate(-90) scale(0.6221 1)" font-size="50.04" font-style="italic" fill="#231f20" stroke="#231f20" stroke-width="0.40" stroke-linejoin="round" letter-spacing="2.25">APPROXIMATE DISTANCE</text></g>
<g filter="url(#fx1)"><text transform="translate(863.78 891.85) scale(0.5059 1)" font-size="45.09" font-weight="bold" fill="#231f20" stroke="#231f20" stroke-width="0.30" stroke-linejoin="round" letter-spacing="4.25">UVB INTENSITY</text></g>
<g filter="url(#fx1)"><text transform="translate(1187.78 892.15) scale(0.5081 1)" font-size="45.09" font-weight="bold" fill="#231f20" stroke="#231f20" stroke-width="0.30" stroke-linejoin="round" letter-spacing="4.23">UV INDEX</text></g>
<g filter="url(#fx1)"><text transform="translate(926.66 978.10) scale(0.5725 1)" font-size="54.69" fill="#231f20" stroke="#231f20" stroke-width="0.40" stroke-linejoin="round" letter-spacing="3.84">up to</text></g>
<g filter="url(#fx1)"><text transform="translate(772.88 1033.80) scale(0.5663 1)" font-size="54.69" fill="#231f20" stroke="#231f20" stroke-width="0.40" stroke-linejoin="round" letter-spacing="3.88">100 Microwatts UVB@4&quot;</text></g>
<g filter="url(#fx1)"><text transform="translate(1193.57 1033.00) scale(0.6199 1)" font-size="54.69" fill="#231f20" stroke="#231f20" stroke-width="0.40" stroke-linejoin="round" letter-spacing="3.55">UVI &gt;5</text></g>
<g filter="url(#fx1)"><text transform="translate(926.66 1116.10) scale(0.5725 1)" font-size="54.69" fill="#231f20" stroke="#231f20" stroke-width="0.40" stroke-linejoin="round" letter-spacing="3.84">up to</text></g>
<g filter="url(#fx1)"><text transform="translate(771.96 1171.80) scale(0.5679 1)" font-size="54.69" fill="#231f20" stroke="#231f20" stroke-width="0.40" stroke-linejoin="round" letter-spacing="3.87">50 Microwatts UVB@12&quot;</text></g>
<g filter="url(#fx1)"><text transform="translate(1189.66 1171.00) scale(0.6001 1)" font-size="54.69" fill="#231f20" stroke="#231f20" stroke-width="0.40" stroke-linejoin="round" letter-spacing="3.67">UVI 2-5</text></g>
<g filter="url(#fx1)"><text transform="translate(926.66 1253.60) scale(0.5725 1)" font-size="54.69" fill="#231f20" stroke="#231f20" stroke-width="0.40" stroke-linejoin="round" letter-spacing="3.84">up to</text></g>
<g filter="url(#fx1)"><text transform="translate(771.65 1309.30) scale(0.5684 1)" font-size="54.69" fill="#231f20" stroke="#231f20" stroke-width="0.40" stroke-linejoin="round" letter-spacing="3.87">25 Microwatts UVB@18&quot;</text></g>
<g filter="url(#fx1)"><text transform="translate(1193.56 1308.50) scale(0.6220 1)" font-size="54.69" fill="#231f20" stroke="#231f20" stroke-width="0.40" stroke-linejoin="round" letter-spacing="3.54">UVI &lt;2</text></g>
<g filter="url(#fx1)"><text transform="translate(926.66 1391.10) scale(0.5725 1)" font-size="54.69" fill="#231f20" stroke="#231f20" stroke-width="0.40" stroke-linejoin="round" letter-spacing="3.84">up to</text></g>
<g filter="url(#fx1)"><text transform="translate(781.96 1446.80) scale(0.5686 1)" font-size="54.69" fill="#231f20" stroke="#231f20" stroke-width="0.40" stroke-linejoin="round" letter-spacing="3.87">5 Microwatts UVB@24&quot;</text></g>
<g filter="url(#fx1)"><text transform="translate(1193.70 1446.00) scale(0.5905 1)" font-size="54.69" fill="#231f20" stroke="#231f20" stroke-width="0.40" stroke-linejoin="round" letter-spacing="3.73">UVI &lt;1</text></g>
</g>
</svg>
</body></html>
